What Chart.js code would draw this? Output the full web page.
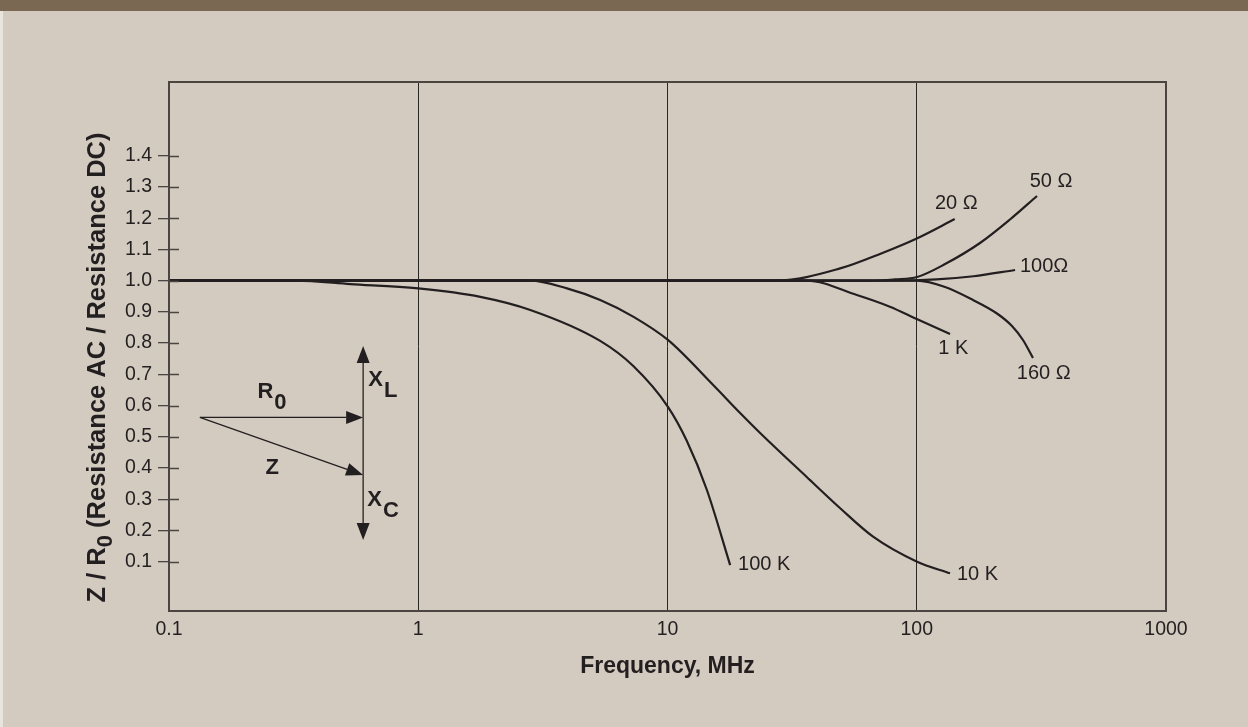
<!DOCTYPE html>
<html><head><meta charset="utf-8">
<script src="https://cdn.jsdelivr.net/npm/chart.js@4.4.0/dist/chart.umd.min.js"></script>
<style>html,body{margin:0;padding:0;background:#d3cbc0;overflow:hidden}#wrap{width:1248px;height:727px;position:relative}</style>
</head><body><div id="wrap"><canvas id="c" width="1248" height="727"></canvas></div>
<script>
// ---------- data ----------
const xTickValues = [0.1, 1, 10, 100, 1000];
const xTickLabels = ['0.1', '1', '10', '100', '1000'];
const yTickValues = [0.1, 0.2, 0.3, 0.4, 0.5, 0.6, 0.7, 0.8, 0.9, 1.0, 1.1, 1.2, 1.3, 1.4];
const xAxisTitle = 'Frequency, MHz';
const yAxisTitleParts = ['Z / R', '0', ' (Resistance AC / Resistance DC)'];

const seriesNames = ['100 K', '10 K', '20 Ω', '50 Ω', '100Ω', '1 K', '160 Ω'];

const freq100K  = [0.1, 0.3245, 0.534, 1.0, 1.774, 2.815, 5.37, 7.29, 10.04, 11.96, 14.39, 17.84];
const ratio100K = [1.0, 1.0, 0.989, 0.975, 0.948, 0.906, 0.807, 0.7265, 0.596, 0.4864, 0.3295, 0.089];

const freq10K  = [0.1, 2.815, 3.95, 5.37, 7.31, 10.04, 15.25, 19.56, 23.53, 36.2, 49.3, 66.8, 100.3, 136];
const ratio10K = [1.0, 1.0, 0.975, 0.938, 0.884, 0.81, 0.6657, 0.576, 0.512, 0.371, 0.271, 0.18, 0.0999, 0.0628];

const freq20  = [0.1, 27.5, 49.3, 72, 100, 142];
const ratio20 = [1.0, 1.0, 1.039, 1.087, 1.135, 1.197];

const freq50  = [0.1, 66.8, 81.8, 100.3, 129.9, 179.4, 236.6, 303.7];
const ratio50 = [1.0, 1.0, 1.004, 1.0115, 1.053, 1.1204, 1.1956, 1.271];

const freq100  = [0.1, 80, 120, 169, 248];
const ratio100 = [1.0, 1.0, 1.004, 1.014, 1.034];

const freq1K  = [0.1, 36.2, 57.5, 78, 100, 136];
const ratio1K = [1.0, 1.0, 0.954, 0.9165, 0.877, 0.829];

const freq160  = [0.1, 100, 129.9, 168.1, 209.8, 241, 266.8, 292.6];
const ratio160 = [1.0, 1.0, 0.9795, 0.9379, 0.8946, 0.8546, 0.8098, 0.7522];

const seriesFreqs  = [freq100K, freq10K, freq20, freq50, freq100, freq1K, freq160];
const seriesRatios = [ratio100K, ratio10K, ratio20, ratio50, ratio100, ratio1K, ratio160];

// curve label anchors (left edge, vertical middle), in axis units
const curveLabelFreq  = [19.2, 145, 118.3, 284, 259.5, 122, 252];
const curveLabelRatio = [0.092, 0.0605, 1.2475, 1.3167, 1.0467, 0.782, 0.704];

// phasor inset, in axis units
const phasorFreq  = [0.133, 0.601];                 // origin, reactance axis
const phasorRatio = [0.562, 0.3775, 0.791, 0.169];  // R0 level, Z tip, XL tip, XC tip
const phasorLabelText = ['R', 'Z', 'X', 'X'];
const phasorLabelSub  = ['0', '', 'L', 'C'];
const phasorLabelFreq  = [0.2264, 0.2437, 0.6307, 0.625];
const phasorLabelRatio = [0.6433, 0.4015, 0.6817, 0.2975];

// ---------- style ----------
const INK = '#231f20';
const FONT = "'Liberation Sans', Arial, Helvetica, sans-serif";

const decorPlugin = {
  id: 'decor',
  beforeDraw(chart) {
    const ctx = chart.ctx;
    ctx.save();
    ctx.fillStyle = '#d3cbc0';
    ctx.fillRect(0, 0, chart.width, chart.height);
    ctx.fillStyle = '#7a6852';
    ctx.fillRect(0, 0, chart.width, 11);
    ctx.fillStyle = '#e8e4de';
    ctx.fillRect(0, 11, 3, chart.height - 11);
    ctx.restore();
  },
  afterDatasetsDraw(chart) {
    const ctx = chart.ctx;
    const xs = chart.scales.x, ys = chart.scales.y;
    const a = chart.chartArea;
    ctx.save();
    // frame
    ctx.strokeStyle = '#4a4541';
    ctx.lineWidth = 2;
    ctx.strokeRect(a.left, a.top, a.right - a.left, a.bottom - a.top);
    // inner tick parts
    ctx.lineWidth = 1.3;
    ctx.beginPath();
    yTickValues.forEach(v => {
      const y = Math.round(ys.getPixelForValue(v)) + 0.5;
      ctx.moveTo(a.left, y); ctx.lineTo(a.left + 10, y);
    });
    ctx.stroke();

    // curve labels
    ctx.fillStyle = INK;
    ctx.font = '20px ' + FONT;
    ctx.textAlign = 'left';
    ctx.textBaseline = 'middle';
    seriesNames.forEach((n, i) => {
      ctx.fillText(n, xs.getPixelForValue(curveLabelFreq[i]), ys.getPixelForValue(curveLabelRatio[i]));
    });

    // phasor inset
    const ox = xs.getPixelForValue(phasorFreq[0]);
    const vx = xs.getPixelForValue(phasorFreq[1]);
    const oy = ys.getPixelForValue(phasorRatio[0]);
    const zy = ys.getPixelForValue(phasorRatio[1]);
    const ty = ys.getPixelForValue(phasorRatio[2]);
    const by = ys.getPixelForValue(phasorRatio[3]);
    ctx.strokeStyle = INK;
    ctx.lineWidth = 1.3;
    function arrow(x0, y0, x1, y1) {
      const ang = Math.atan2(y1 - y0, x1 - x0);
      const L = 17, W = 6.5;
      const bx = x1 - L * Math.cos(ang), byy = y1 - L * Math.sin(ang);
      ctx.beginPath(); ctx.moveTo(x0, y0); ctx.lineTo(bx, byy); ctx.stroke();
      ctx.beginPath();
      ctx.moveTo(x1, y1);
      ctx.lineTo(bx - W * Math.sin(ang), byy + W * Math.cos(ang));
      ctx.lineTo(bx + W * Math.sin(ang), byy - W * Math.cos(ang));
      ctx.closePath(); ctx.fill();
    }
    arrow(ox, oy, vx, oy);
    arrow(ox, oy, vx, zy);
    arrow(vx, (ty + by) / 2, vx, ty);
    arrow(vx, (ty + by) / 2, vx, by);
    ctx.font = 'bold 22px ' + FONT;
    phasorLabelText.forEach((t, i) => {
      const x = xs.getPixelForValue(phasorLabelFreq[i]);
      const y = ys.getPixelForValue(phasorLabelRatio[i]);
      ctx.fillText(t, x, y);
      if (phasorLabelSub[i]) {
        ctx.fillText(phasorLabelSub[i], x + ctx.measureText(t).width + 1, y + 11);
      }
    });

    // y-axis title with subscript
    ctx.save();
    ctx.translate(105, (a.top + a.bottom) / 2 + 21);
    ctx.rotate(-Math.PI / 2);
    ctx.textBaseline = 'alphabetic';
    const fMain = 'bold 25.5px ' + FONT, fSub = 'bold 22px ' + FONT;
    ctx.font = fMain; const w0 = ctx.measureText(yAxisTitleParts[0]).width;
    const w2 = ctx.measureText(yAxisTitleParts[2]).width;
    ctx.font = fSub; const w1 = ctx.measureText(yAxisTitleParts[1]).width;
    let x = -(w0 + w1 + w2) / 2;
    ctx.font = fMain; ctx.fillText(yAxisTitleParts[0], x, 0); x += w0;
    ctx.font = fSub; ctx.fillText(yAxisTitleParts[1], x, 7); x += w1;
    ctx.font = fMain; ctx.fillText(yAxisTitleParts[2], x, 0);
    ctx.restore();
    ctx.restore();
  }
};

const datasets = seriesNames.map((n, i) => ({
  label: n,
  data: seriesFreqs[i].map((f, j) => ({ x: f, y: seriesRatios[i][j] })),
  borderColor: INK,
  borderWidth: 2.2,
  pointRadius: 0,
  fill: false,
  cubicInterpolationMode: 'monotone'
}));

new Chart(document.getElementById('c'), {
  type: 'line',
  data: { datasets },
  plugins: [decorPlugin],
  options: {
    responsive: false,
    animation: false,
    devicePixelRatio: 1,
    layout: { padding: { left: 0, top: 82, right: 82, bottom: 0 } },
    plugins: { legend: { display: false }, tooltip: { enabled: false } },
    scales: {
      x: {
        type: 'logarithmic',
        min: 0.1, max: 1000,
        afterBuildTicks: s => { s.ticks = xTickValues.map(v => ({ value: v })); },
        afterFit: s => { s.height = 116; },
        border: { display: false },
        grid: { color: '#2b2724', lineWidth: 1, drawTicks: false, drawOnChartArea: true },
        ticks: {
          autoSkip: false, maxRotation: 0, padding: 7, color: INK,
          font: { family: FONT, size: 19.5 },
          callback: (v, i) => xTickLabels[i]
        },
        title: { display: true, text: xAxisTitle, color: INK, font: { family: FONT, size: 23, weight: 'bold' }, padding: { top: 0, bottom: 47 } }
      },
      y: {
        type: 'linear',
        min: -0.058, max: 1.636,
        afterBuildTicks: s => { s.ticks = yTickValues.map(v => ({ value: v })); },
        afterFit: s => { s.width = 169; },
        border: { display: false },
        grid: { drawOnChartArea: false, drawTicks: true, tickLength: 11, color: '#4a4541', lineWidth: 1.3 },
        ticks: {
          autoSkip: false, padding: 6, color: INK,
          font: { family: FONT, size: 19.5 },
          callback: v => Number(v).toFixed(1)
        }
      }
    }
  }
});
</script></body></html>
